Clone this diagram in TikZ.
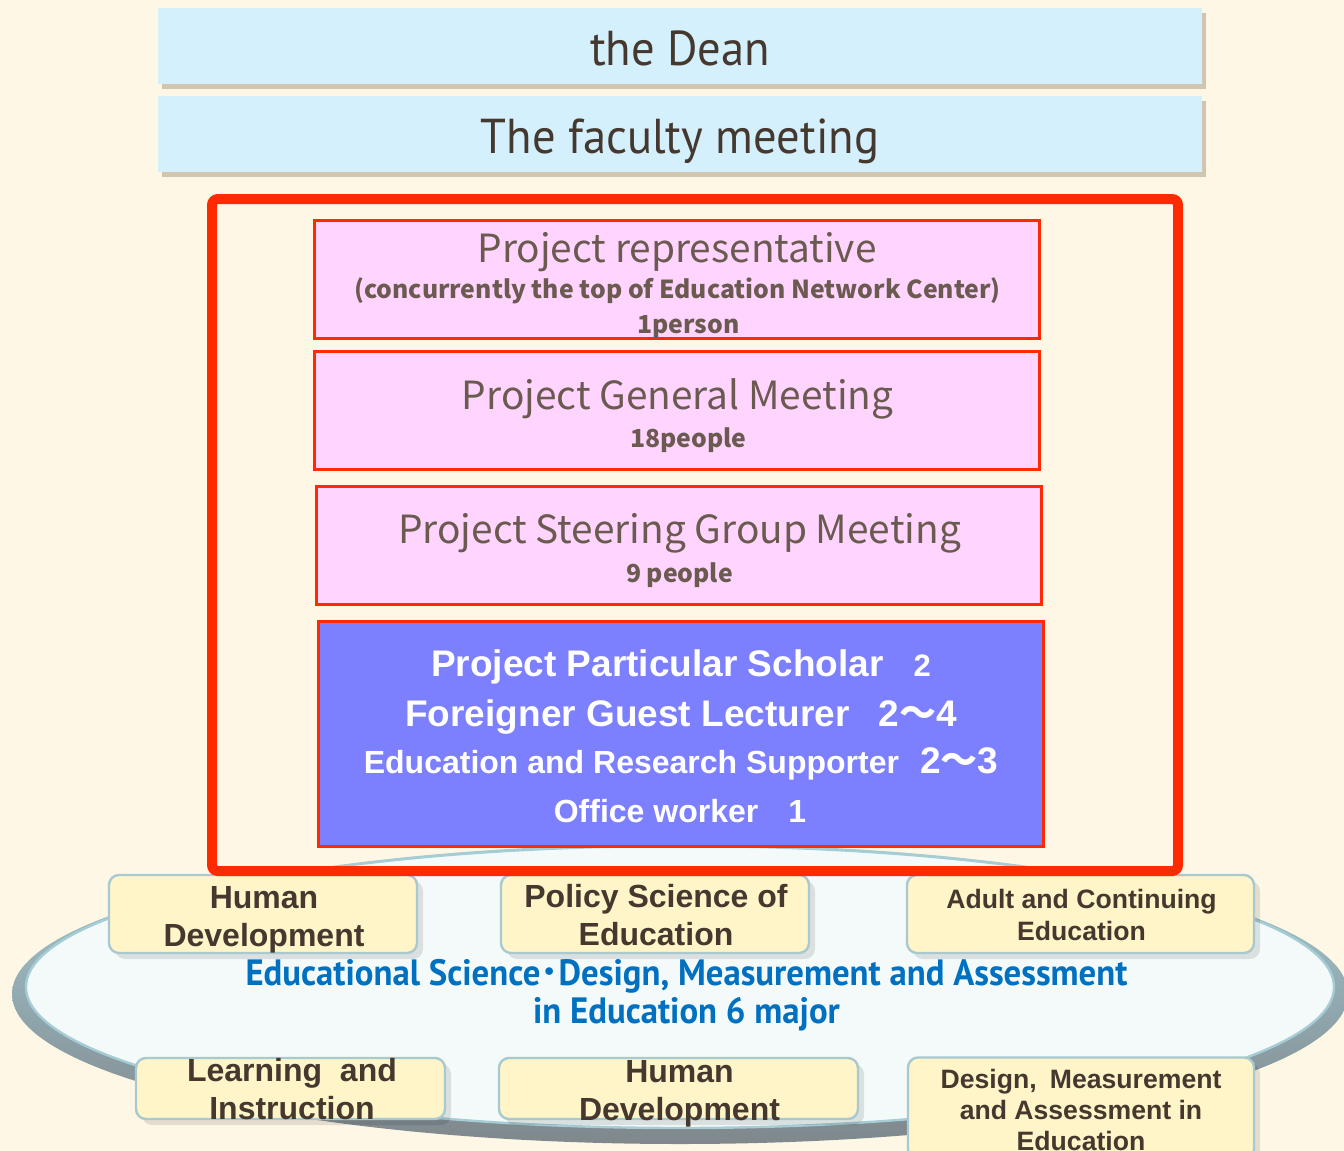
\documentclass[tikz,border=0pt]{standalone}
\usepackage{fontspec}
\setmainfont{Liberation Sans}
\newfontfamily\gillfont[FakeStretch=0.95]{PT Sans}
\newfontfamily\pinkfont{Noto Sans CJK JP}
\newfontfamily\cjk{Noto Sans CJK JP}
\usepackage{xcolor}
\usetikzlibrary{shapes,positioning,calc,shadows}

\definecolor{bgcream}{HTML}{FEF7E5}
\definecolor{deanblue}{HTML}{D5F0FD}
\definecolor{shadowbrown}{HTML}{B5A48C}
\definecolor{framered}{HTML}{FF2A00}
\definecolor{pinkfill}{HTML}{FFD5FF}
\definecolor{staffblue}{HTML}{7C80FF}
\definecolor{ovalfill}{HTML}{F3FAF9}
\definecolor{ovalrim}{HTML}{7F888C}
\definecolor{ovaledge}{HTML}{A6CDD6}
\definecolor{majorfill}{HTML}{FFF5C8}
\definecolor{majoredge}{HTML}{A8C9CF}
\definecolor{textbrown}{HTML}{45382F}
\definecolor{pinktext}{HTML}{6A5A50}
\definecolor{majorblue}{HTML}{0070C0}

\newcommand{\tildewave}{{\cjk 〜}}

\begin{document}
\begin{tikzpicture}[x=0.5pt, y=-0.5pt,
    topbox/.style={fill=deanblue, minimum width=522pt, minimum height=38pt, inner sep=0pt,
        text height=20pt, text depth=1pt,
        font=\gillfont\fontsize{24.5}{28}\selectfont, text=textbrown,
        drop shadow={shadow xshift=2pt, shadow yshift=-2.5pt, fill=shadowbrown, opacity=0.6}},
    pinkbox/.style={fill=pinkfill, draw=framered, line width=1.5pt, minimum width=362.5pt, minimum height=59pt, inner sep=0pt},
    pinktitle/.style={anchor=base, inner sep=0pt, text=pinktext, font=\pinkfont\fontsize{19.4}{23}\selectfont},
    pinknote/.style={anchor=base, inner sep=0pt, text=pinktext, font=\pinkfont\bfseries\fontsize{12.4}{15}\selectfont},
    staffline/.style={anchor=base, inner sep=0pt, text=white, font=\bfseries\fontsize{18.5}{22}\selectfont},
    majorbox/.style={fill=majorfill, draw=majoredge, line width=1.2pt, rounded corners=5pt, inner sep=0pt,
        drop shadow={shadow xshift=3pt, shadow yshift=-3pt, fill=black, opacity=0.1}},
    majorname/.style={align=center, inner sep=0pt, text=textbrown, font=\bfseries\fontsize{16}{19}\selectfont},
  ]
    % page
    \useasboundingbox (0,0) rectangle (1344,1151);
    \fill [bgcream] (0,0) rectangle (1344,1151);

    % dean and faculty meeting
    \node [topbox] (dean) at (680,46) {the Dean};
    \node [topbox] (faculty) at (680,134) {The faculty meeting};

    % plate of the majors
    \shade [top color=ovaledge, bottom color=ovalrim] (680,994) ellipse [x radius=334pt, y radius=75pt];
    \filldraw [fill=ovalfill, draw=ovaledge, line width=1.2pt] (680,987) ellipse [x radius=327pt, y radius=70.5pt];

    % project organisation
    \node [pinkbox] (rep) at (677,279.5) {};
    \node [pinktitle] (reptitle) at (677,262) {Project representative};
    \node [pinknote] (repnote) at (677.5,298) {(concurrently the top of Education Network Center)};
    \node [pinknote] (repcount) at (688.5,333) {1person};

    \node [pinkbox] (general) at (677,410) {};
    \node [pinktitle] (generaltitle) at (677.5,409) {Project General Meeting};
    \node [pinknote] (generalcount) at (688.5,447) {18people};

    \node [pinkbox] (steering) at (679,545.5) {};
    \node [pinktitle] (steeringtitle) at (679.5,543) {Project Steering Group Meeting};
    \node [pinknote] (steeringcount) at (679.5,582) {9 people};

    \node [pinkbox, fill=staffblue, minimum height=112.5pt] (staff) at (680.5,734) {};
    \node [staffline] (scholar) at (681,676.5) {Project Particular Scholar\hspace{15pt}{\fontsize{15.5}{18}\selectfont 2}};
    \node [staffline] (lecturer) at (681,726.5) {Foreigner Guest Lecturer\hspace{14.5pt}2\tildewave 4};
    \node [staffline, font=\bfseries\fontsize{16}{19}\selectfont] (supporter) at (681,773) {Education and Research Supporter\hspace{10.5pt}{\fontsize{18.5}{22}\selectfont 2\tildewave 3}};
    \node [staffline, font=\bfseries\fontsize{16}{19}\selectfont] (office) at (680,822.5) {Office worker\hspace{15pt}1};

    % the six majors
    \node [majorbox, minimum width=154pt, minimum height=39pt] (humandev) at (263,914) {};
    \node [majorbox, minimum width=154pt, minimum height=39pt] (policy) at (655,914) {};
    \node [majorbox, minimum width=173.5pt, minimum height=39pt] (adult) at (1080.5,914) {};
    \node [majorbox, minimum width=154.5pt, minimum height=30.5pt] (learning) at (290.5,1088.5) {};
    \node [majorbox, minimum width=179.5pt, minimum height=30.5pt] (humandevb) at (678.5,1088.5) {};
    \node [majorbox, minimum width=173pt, minimum height=51pt] (design) at (1081,1108.5) {};

    \node [majorname] (humandevname) at (264,919.5) {Human\\Development};
    \node [majorname] (policyname) at (656,915.5) {Policy Science of\\Education};
    \node [majorname, font=\bfseries\fontsize{13.3}{16}\selectfont] (adultname) at (1081.5,914.5) {Adult and Continuing\\Education};
    \node [majorname] (learningname) at (292,1089.5) {Learning\ \ and\\Instruction};
    \node [majorname] (humandevbname) at (679.5,1094) {Human\\Development};
    \node [majorname, font=\bfseries\fontsize{13.3}{15.5}\selectfont] (designname) at (1081,1109.5) {Design,\enspace Measurement\\and Assessment in\\Education};

    \node [align=center, inner sep=0pt, text=majorblue, font=\gillfont\bfseries\fontsize{18.3}{18.9}\selectfont] (majors) at (686.5,995)
        {Educational Science{\cjk ･}Design, Measurement and Assessment\\in Education 6 major};

    % project frame
    \draw [framered, line width=5pt, rounded corners=3pt] (212,199) rectangle (1178,871);
\end{tikzpicture}
\end{document}
